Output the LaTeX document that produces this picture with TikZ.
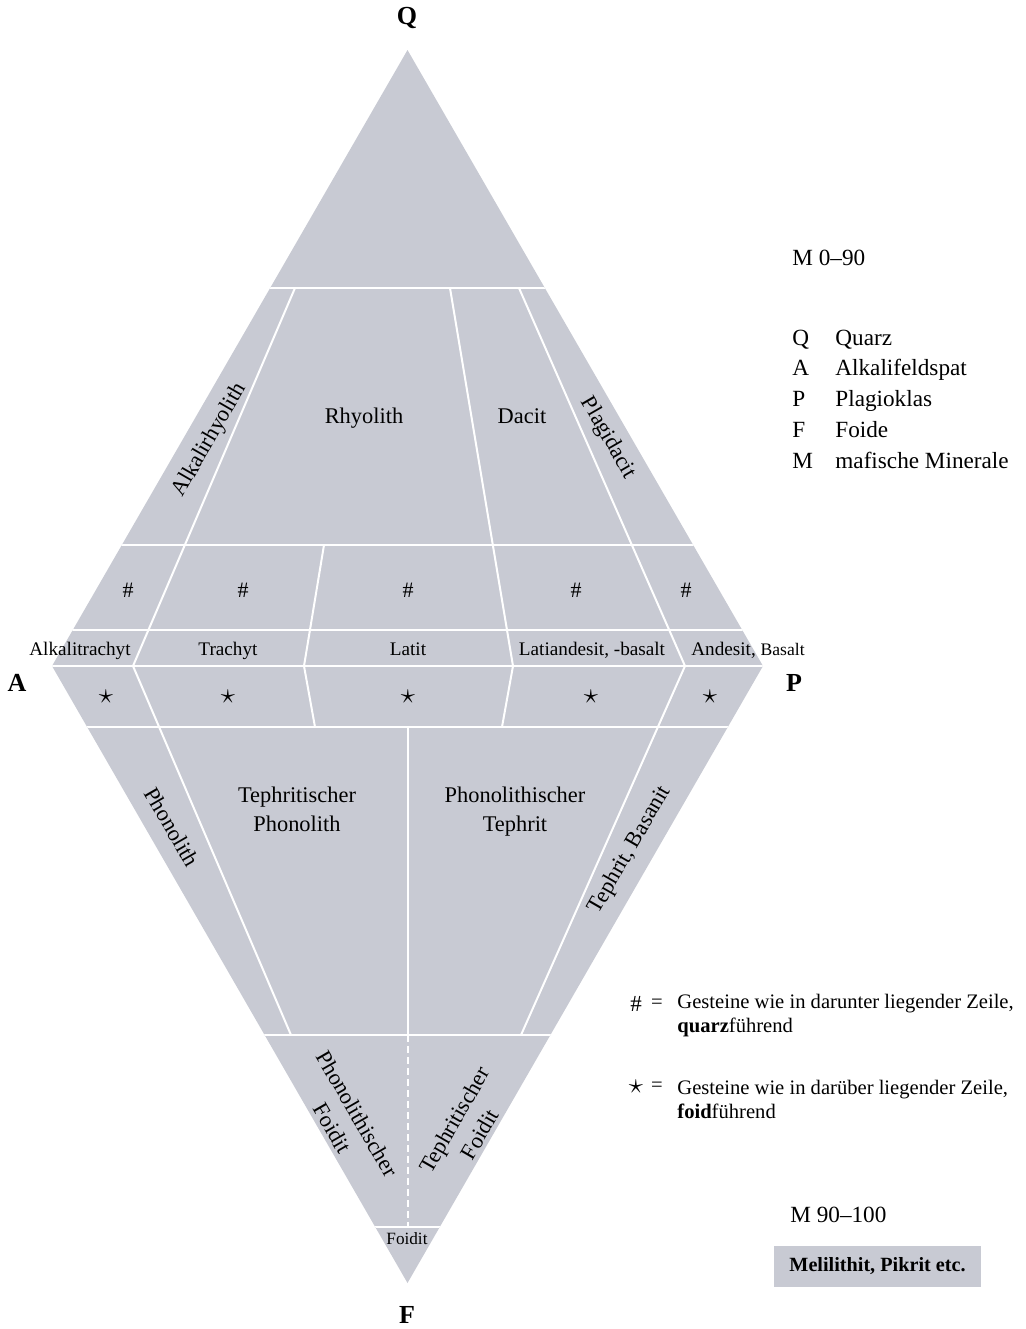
\documentclass[tikz,border=0pt]{standalone}
\usepackage{fontspec}
\setmainfont{Liberation Serif}

\definecolor{fieldgray}{RGB}{200,202,211}

\tikzset{
    border/.style={white, line width=1pt},
    area/.style={font=\fontsize{11.2}{14.5}\selectfont, align=center, inner sep=0pt},
    rowlabel/.style={font=\fontsize{9.6}{11}\selectfont, anchor=base, inner sep=0pt},
    marker/.style={font=\fontsize{11}{13}\selectfont, inner sep=0pt},
    corner/.style={font=\fontsize{13}{15}\selectfont\bfseries, inner sep=0pt},
    legend/.style={font=\fontsize{11.6}{14}\selectfont, anchor=base west, inner sep=0pt},
    note/.style={font=\fontsize{10.3}{12}\selectfont, anchor=west, align=left, inner sep=0pt}
}

\begin{document}
\begin{tikzpicture}[x=0.5pt, y=-0.5pt]
                \useasboundingbox (0, 0) rectangle (1026, 1329);

                \coordinate (Qv) at (407.5, 50);
                \coordinate (Pv) at (763, 666);
                \coordinate (Fv) at (407.5, 1283);
                \coordinate (Av) at (52, 666);

                \fill[fieldgray] (Qv) -- (Pv) -- (Fv) -- (Av) -- cycle;

                \begin{scope}
                \clip (Qv) -- (Pv) -- (Fv) -- (Av) -- cycle;

                \foreach \y in {288, 545, 630, 666, 727, 1035, 1227}
                    \draw[border] (0, \y) -- (1026, \y);

                \draw[border] (295, 288) -- (133, 666) -- (291, 1035);

                \draw[border] (450, 288) -- (513, 666) -- (502, 727);

                \draw[border] (324, 545) -- (304, 666) -- (315, 727);

                \draw[border] (519, 288) -- (685, 666) -- (521, 1035);

                \draw[border] (408, 727) -- (408, 1035);

                \draw[border, dash pattern=on 3.5pt off 2pt] (408, 1035) -- (408, 1227);
                \end{scope}

                \node[corner] (q) at (407, 18) {Q};

                \node[corner] (a) at (17, 683) {A};

                \node[corner] (p) at (794, 683) {P};

                \node[corner] (f) at (407, 1315) {F};

                \node[area, rotate=60] (alkrhy) at (210, 440) {Alkalirhyolith};

                \node[area, anchor=base] (rhy) at (364, 423) {Rhyolith};

                \node[area, anchor=base] (dac) at (522, 423) {Dacit};

                \node[area, rotate=-60] (pldac) at (608, 438) {Plagidacit};

                \foreach \x [count=\i] in {128, 243, 408, 576, 686}
                    \node[marker] (hash\i) at (\x, 590) {\#};

                \node[rowlabel] (alktra) at (80, 655) {Alkalitrachyt};

                \node[rowlabel] (tra) at (228, 655) {Trachyt};

                \node[rowlabel] (lat) at (408, 655) {Latit};

                \node[rowlabel] (latand) at (592, 655) {Latiandesit, -basalt};

                \node[rowlabel] (and) at (748, 655) {Andesit, {\fontsize{8.8}{10}\selectfont Basalt}};

                \foreach \x [count=\i] in {106, 228, 408, 591, 710}
                    \node[marker, font=\fontsize{14}{16}\selectfont] (star\i) at (\x, 697) {$\star$};

                \node[area, rotate=-60] (pho) at (172, 827) {Phonolith};

                \node[area] (tephpho) at (297, 812) {Tephritischer\\Phonolith\vphantom{p}};

                \node[area] (photeph) at (515, 812) {Phonolithischer\\Tephrit};

                \node[area, rotate=60] (teph) at (630, 850) {Tephrit, Basanit};

                \node[area, rotate=-60] (phofoi) at (345, 1121) {Phonolithischer\\Foidit};

                \node[area, rotate=60] (tephfoi) at (467, 1127) {Tephritischer\\Foidit};

                \node[area, font=\fontsize{8.6}{10}\selectfont] (foi) at (407, 1239) {Foidit};

                \node[legend] (m1) at (792, 265.5) {M 0--90};

                \foreach \s/\t [count=\i] in {Q/Quarz, A/Alkalifeldspat, P/Plagioklas, F/Foide, M/mafische Minerale} {
                    \node[legend] (key\i) at (792, 314.5 + 30.7*\i) {\s};
                    \node[legend] (name\i) at (835, 314.5 + 30.7*\i) {\t};
                }

                \node[note, anchor=center, font=\fontsize{11.5}{12}\selectfont] (hashsym) at (636, 1004) {\#};

                \node[note, anchor=center] (hasheq) at (657, 1004) {=};

                \node[note] (hashtxt) at (677, 1016) {Gesteine wie in darunter liegender Zeile,\\\textbf{quarz}führend};

                \node[note, anchor=center, font=\fontsize{15}{16}\selectfont] (starsym) at (636, 1087) {$\star$};

                \node[note, anchor=center] (stareq) at (657, 1087) {=};

                \node[note] (startxt) at (677, 1099.5) {Gesteine wie in darüber liegender Zeile,\\\textbf{foid}führend};

                \node[legend] (m2) at (790, 1222.5) {M 90--100};

                \node[fill=fieldgray, minimum width=103.5pt, minimum height=20.5pt, inner sep=0pt, font=\fontsize{10.1}{12}\selectfont\bfseries] (melbox) at (877.5, 1266.5) {Melilithit, Pikrit etc.};
            \end{tikzpicture}
\end{document}
